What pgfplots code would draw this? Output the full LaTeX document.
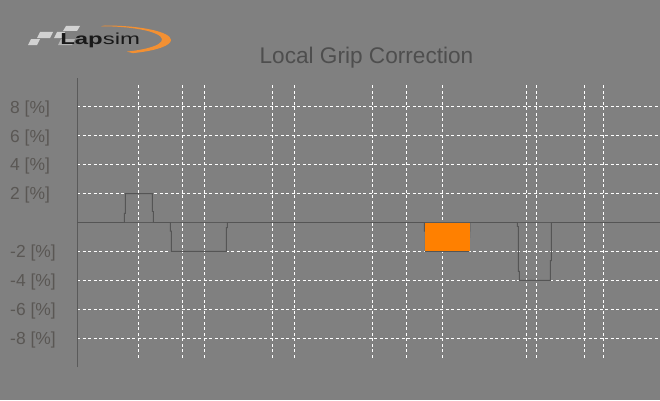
\documentclass[border=0pt]{standalone}
\usepackage{fontspec}
\setmainfont{Liberation Sans}
\usepackage{pgfplots}
\pgfplotsset{compat=1.18}

\definecolor{bggray}{HTML}{808080}
\definecolor{linegray}{HTML}{555555}
\definecolor{axisgray}{HTML}{5A5A5A}
\definecolor{titlegray}{HTML}{4E4E4E}
\definecolor{tickgray}{HTML}{5A5754}
\definecolor{barorange}{HTML}{FF8000}
\definecolor{logoorange}{HTML}{F39032}
\definecolor{stripe}{HTML}{D2D2D2}
\definecolor{stripedark}{HTML}{B4B4B4}

\begin{document}
\begin{tikzpicture}[x=1bp,y=1bp]
% background
\fill[bggray] (0,0) rectangle (660,400);

% logo
\fill[stripe] (66,374) -- (80,374) -- (77,369) -- (63,369) -- cycle;
\fill[stripe] (40,368) -- (53,368) -- (50,362) -- (37,362) -- cycle;
\fill[stripe] (57,368) -- (65,368) -- (62,362) -- (54,362) -- cycle;
\fill[stripe] (31,361) -- (40,361) -- (37,355) -- (28,355) -- cycle;
\fill[stripedark] (61,361) -- (75,361) -- (72,355) -- (58,355) -- cycle;
\fill[logoorange] (105,374.5) arc[start angle=90, end angle=-65, x radius=66, y radius=14.5]
  -- (126.8,348.4) arc[start angle=-65, end angle=90, x radius=61, y radius=13.3] -- cycle;
\node[anchor=base west, inner sep=0pt, xscale=1.5, text=black!90,
  font=\fontsize{16}{18}\selectfont] at (60,356) {\textbf{Lap}sim};

% title
\node[anchor=base, inner sep=0pt, text=titlegray,
  font=\fontsize{22.7}{26}\selectfont] at (366.5,337) {Local Grip Correction};

\begin{axis}[
    at={(77bp,33bp)}, anchor=south west,
    scale only axis, width=583bp, height=289bp,
    xmin=77, xmax=660, ymin=-10, ymax=10,
    axis x line=none,
    axis y line=left,
    y axis line style={-, draw=axisgray, line width=1bp},
    ytick={-8,-6,-4,-2,2,4,6,8},
    major tick length=0pt,
    ymajorgrids,
    major grid style={white, line width=1bp, dash pattern=on 3bp off 2.5bp},
    yticklabel={\pgfmathparse{int(\tick)}\pgfmathresult{} [\%]},
    yticklabel style={anchor=base west, inner sep=0pt, xshift=-67bp, yshift=-6.2bp,
      text=tickgray, font=\fontsize{17.5}{20}\selectfont},
  ]
  % sector lines
  \pgfplotsinvokeforeach{138,182,204,272,294,372,406,442,526,536,584,603}{
    \addplot[white, line width=1bp, dash pattern=on 3bp off 2.5bp, forget plot]
      coordinates {(#1,-9.35) (#1,9.5)};
  }
  % zero line
  \addplot[axisgray, line width=1bp, forget plot] coordinates {(77,0) (660,0)};
  % grip correction
  \addplot[linegray, line width=0.9bp] coordinates {
    (77,0) (124.3,0) (124.3,0.63) (125.3,0.63) (125.3,2) (152.3,2)
    (152.3,0.76) (153.3,0.76) (153.3,0) (170.3,0) (170.3,-0.6) (171.3,-0.6)
    (171.3,-2) (226.3,-2) (226.3,-0.35) (227.3,-0.35) (227.3,0)
    (424.3,0) (424.3,-0.6) (425.3,-0.6) (425.3,-2) (469,-2) (470,-0.25) (470,0)
    (517.3,0) (517.3,-0.28) (518.3,-0.28) (518.3,-3.38) (519.3,-3.38) (519.3,-4)
    (550.3,-4) (550.3,-2.64) (551.3,-2.64) (551.3,0) (660,0)
  };
  \addplot[fill=barorange, draw=none] coordinates {
    (425.3,-0.05) (470,-0.05) (470,-1.95) (425.3,-1.95)
  } -- cycle;
\end{axis}
\pgfresetboundingbox
\useasboundingbox (0,0) rectangle (660,400);
\end{tikzpicture}
\end{document}
